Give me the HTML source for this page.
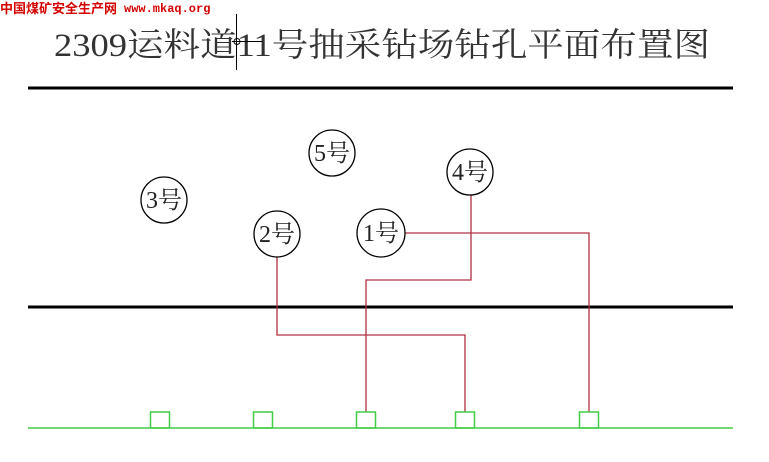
<!DOCTYPE html>
<html><head><meta charset="utf-8"><style>
html,body{margin:0;padding:0;background:#fff;width:769px;height:462px;overflow:hidden}
</style></head><body>
<svg width="769" height="462" xmlns="http://www.w3.org/2000/svg">
<text x="0" y="13" font-family="'WenQuanYi Zen Hei','Noto Sans CJK SC',sans-serif" font-weight="bold" font-size="13" fill="#d40000">中国煤矿安全生产网</text>
<text x="124" y="12" font-family="'Liberation Mono',monospace" font-weight="bold" font-size="12" fill="#d40000">www.mkaq.org</text>
<text x="54" y="56" font-family="'Liberation Serif','Noto Serif CJK SC',serif" font-size="33" fill="#333" textLength="656" lengthAdjust="spacingAndGlyphs">2309运料道11号抽采钻场钻孔平面布置图</text>
<line x1="236.5" y1="14" x2="236.5" y2="70" stroke="#000" stroke-width="1"/>
<line x1="232" y1="41.5" x2="262" y2="41.5" stroke="#000" stroke-width="1"/>
<circle cx="237" cy="41.5" r="3" fill="none" stroke="#000" stroke-width="1"/>
<line x1="28" y1="88" x2="733" y2="88" stroke="#000" stroke-width="3"/>
<line x1="28" y1="307" x2="733" y2="307" stroke="#000" stroke-width="3"/>
<g fill="none" stroke="#b03040" stroke-width="1.3">
<polyline points="277,257 277,335 465,335 465,412"/>
<polyline points="471,195 471,280 366,280 366,412"/>
<polyline points="405,233 589,233 589,412"/>
</g>
<g fill="#fff" stroke="#000" stroke-width="1.3">
<circle cx="332" cy="153" r="23"/>
<circle cx="470" cy="172" r="23"/>
<circle cx="164" cy="200" r="23"/>
<circle cx="277" cy="234" r="23"/>
<circle cx="381" cy="233" r="24"/>
</g>
<g font-family="'Liberation Serif','Noto Serif CJK SC',serif" font-size="24" fill="#222" text-anchor="middle">
<text x="332" y="161">5号</text>
<text x="470" y="180">4号</text>
<text x="164" y="208">3号</text>
<text x="277" y="242">2号</text>
<text x="381" y="241">1号</text>
</g>
<line x1="28" y1="428" x2="733" y2="428" stroke="#44cc44" stroke-width="1.5"/>
<g fill="none" stroke="#44cc44" stroke-width="1.5">
<rect x="150.5" y="412" width="19" height="16"/>
<rect x="253.5" y="412" width="19" height="16"/>
<rect x="356.5" y="412" width="19" height="16"/>
<rect x="455.5" y="412" width="19" height="16"/>
<rect x="579.5" y="412" width="19" height="16"/>
</g>
</svg>
</body></html>
